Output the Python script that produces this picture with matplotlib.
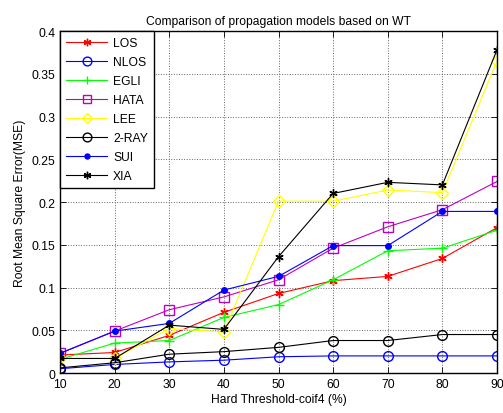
import matplotlib
matplotlib.use('Agg')
import matplotlib.pyplot as plt

plt.rcParams['font.family'] = ['Liberation Sans', 'DejaVu Sans']

thresh = [10, 20, 30, 40, 50, 60, 70, 80, 90]

los   = [0.021, 0.024, 0.044, 0.071, 0.093, 0.108, 0.113, 0.134, 0.170]
nlos  = [0.005, 0.010, 0.013, 0.015, 0.019, 0.020, 0.020, 0.020, 0.020]
egli  = [0.016, 0.035, 0.038, 0.065, 0.080, 0.109, 0.143, 0.146, 0.167]
hata  = [0.023, 0.049, 0.074, 0.089, 0.109, 0.146, 0.171, 0.191, 0.224]
lee   = [0.017, 0.017, 0.052, 0.048, 0.201, 0.201, 0.214, 0.211, 0.365]
tworay = [0.006, 0.012, 0.022, 0.025, 0.030, 0.038, 0.038, 0.045, 0.045]
sui   = [0.023, 0.049, 0.058, 0.097, 0.113, 0.149, 0.149, 0.189, 0.189]
xia   = [0.017, 0.017, 0.056, 0.051, 0.136, 0.210, 0.223, 0.220, 0.378]

asterisk = (6, 2, 0)
fs = 8.7

fig = plt.figure(figsize=(5.03, 4.14), dpi=100)
ax = fig.add_axes([0.1193, 0.0966, 0.8688, 0.8261])

lw = 0.8
ax.plot(thresh, los, color='r', marker=asterisk, ms=6, lw=lw, label='LOS')
ax.plot(thresh, nlos, color='b', marker='o', mfc='none', ms=7, lw=lw, label='NLOS')
ax.plot(thresh, egli, color='#00ff00', marker='+', ms=7, lw=lw, label='EGLI')
ax.plot(thresh, hata, color='m', marker='s', mfc='none', ms=7, lw=lw, label='HATA')
ax.plot(thresh, lee, color='#ffff00', marker='D', mfc='none', ms=6, lw=lw, label='LEE')
ax.plot(thresh, tworay, color='k', marker='o', mfc='none', ms=7, lw=lw, label='2-RAY')
ax.plot(thresh, sui, color='b', marker='.', ms=8, lw=lw, label='SUI')
ax.plot(thresh, xia, color='k', marker=asterisk, ms=6, lw=lw, label='XIA')

ax.set_xlim(10, 90)
ax.set_ylim(0, 0.4)
ax.set_xticks(thresh)
ax.set_yticks([0, 0.05, 0.1, 0.15, 0.2, 0.25, 0.3, 0.35, 0.4])
ax.set_yticklabels(['0', '0.05', '0.1', '0.15', '0.2', '0.25', '0.3', '0.35', '0.4'])
ax.grid(True, linestyle=':', color='#666666', lw=0.7)
ax.tick_params(direction='in', top=True, right=True, labelsize=fs, length=4, width=0.6)
for s in ax.spines.values():
    s.set_linewidth(1.0)

ax.set_xlabel('Hard Threshold-coif4 (%)', fontsize=fs, labelpad=2)
ax.set_ylabel('Root Mean Square Error(MSE)', fontsize=fs, labelpad=4)
ax.set_title('Comparison of propagation models based on WT', fontsize=fs, pad=5)

leg = ax.legend(loc='upper left', fontsize=fs, frameon=True, fancybox=False,
                borderaxespad=0, edgecolor='k', framealpha=1,
                handlelength=3.4, labelspacing=0.58, borderpad=0.5,
                handletextpad=0.5, markerscale=0.9)
leg.get_frame().set_linewidth(1.0)

fig.savefig('out.png', dpi=100)
